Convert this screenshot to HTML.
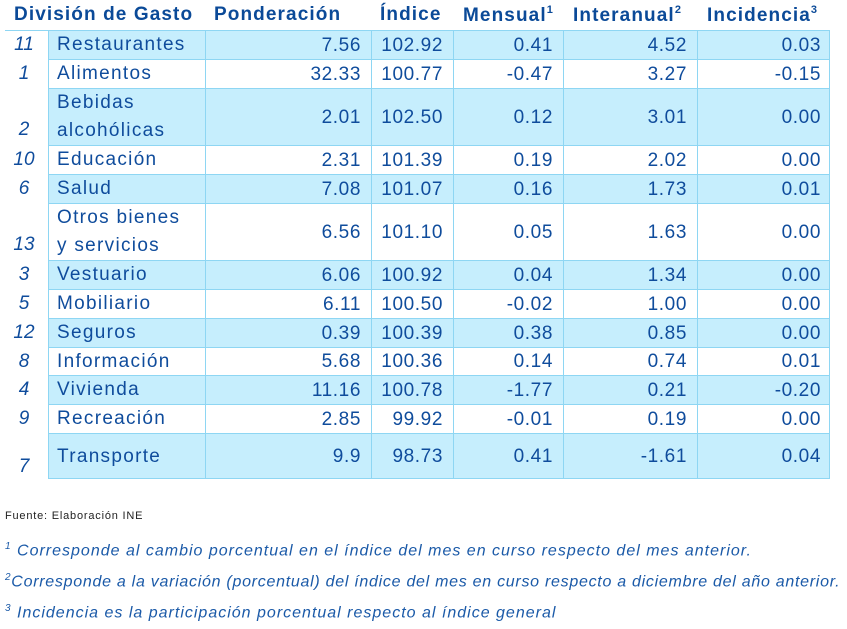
<!DOCTYPE html>
<html><head><meta charset="utf-8"><style>
body{margin:0;width:847px;height:629px;background:#fff;position:relative;overflow:hidden;font-family:"Liberation Sans",sans-serif;color:#0f4c9c}
.h{position:absolute;top:4px;font-weight:bold;font-size:19px;color:#0b4a98;white-space:nowrap;letter-spacing:1.1px}
.h sup{font-size:11px;vertical-align:8px}
.r{position:absolute;left:48px;width:782px;box-sizing:border-box;border:1px solid #8ed6f3;border-top:none}
.c{position:absolute;top:0;bottom:0;border-left:1px solid #8ed6f3}
.t{position:absolute;font-size:19px;white-space:nowrap;line-height:28px;letter-spacing:0.6px}
.l{letter-spacing:1.3px}
.n{position:absolute;font-size:19px;font-style:italic;width:48px;text-align:center;left:0}
.f{position:absolute;left:5px;font-style:italic;font-size:16px;color:#1b5aa8;white-space:nowrap;letter-spacing:1px}
.f sup{font-size:10px}
</style></head><body>
<div class="h" style="left:14px">División de Gasto</div>
<div class="h" style="left:214px">Ponderación</div>
<div class="h" style="left:380px">Índice</div>
<div class="h" style="left:463px">Mensual<sup>1</sup></div>
<div class="h" style="left:573px">Interanual<sup>2</sup></div>
<div class="h" style="left:707px">Incidencia<sup>3</sup></div>
<div style="position:absolute;left:5px;top:30px;width:825px;height:1px;background:#8ed6f3"></div>
<div id="rows"></div>
<script>
var d=[["11","Restaurantes","7.56","102.92","0.41","4.52","0.03"],["1","Alimentos","32.33","100.77","-0.47","3.27","-0.15"],["2","Bebidas<br>alcohólicas","2.01","102.50","0.12","3.01","0.00"],["10","Educación","2.31","101.39","0.19","2.02","0.00"],["6","Salud","7.08","101.07","0.16","1.73","0.01"],["13","Otros bienes<br>y servicios","6.56","101.10","0.05","1.63","0.00"],["3","Vestuario","6.06","100.92","0.04","1.34","0.00"],["5","Mobiliario","6.11","100.50","-0.02","1.00","0.00"],["12","Seguros","0.39","100.39","0.38","0.85","0.00"],["8","Información","5.68","100.36","0.14","0.74","0.01"],["4","Vivienda","11.16","100.78","-1.77","0.21","-0.20"],["9","Recreación","2.85","99.92","-0.01","0.19","0.00"],["7","Transporte","9.9","98.73","0.41","-1.61","0.04"]];
var y=[31,60,89,146,175,204,261,290,319,348,376,405,434,479];
var cx=[205,371,453,563,697],rx=[361,443,553,687,821];
var h="";
for(var i=0;i<13;i++){var t=y[i],hh=y[i+1]-t,bg=i%2==0?"#c6eefd":"#fff";
h+='<div class="r" style="top:'+t+'px;height:'+hh+'px;background:'+bg+'">';
for(var j=0;j<5;j++)h+='<div class="c" style="left:'+(cx[j]-49)+'px"></div>';
h+='</div>';
var tall=hh>35;
h+='<div class="n" style="top:'+(t+(tall?hh-27:3)+(i==12?4:0))+'px">'+d[i][0]+'</div>';
h+='<div class="t l" style="left:57px;top:'+(t+(i==12?(hh-28)/2:0))+'px">'+d[i][1]+'</div>';
for(var j=0;j<5;j++)h+='<div class="t" style="right:'+(847-rx[j])+'px;top:'+(t+(hh-28)/2)+'px">'+d[i][j+2]+'</div>';}
document.getElementById("rows").innerHTML=h;
</script>
<div style="position:absolute;left:5px;top:510px;font-size:11px;color:#222;letter-spacing:0.8px">Fuente: Elaboración INE</div>
<div class="f" style="top:541px"><sup>1</sup> Corresponde al cambio porcentual en el índice del mes en curso respecto del mes anterior.</div>
<div class="f" style="top:572px;letter-spacing:0.72px"><sup>2</sup>Corresponde a la variación (porcentual) del índice del mes en curso respecto a diciembre del año anterior.</div>
<div class="f" style="top:603px"><sup>3</sup> Incidencia es la participación porcentual respecto al índice general</div>
</body></html>
